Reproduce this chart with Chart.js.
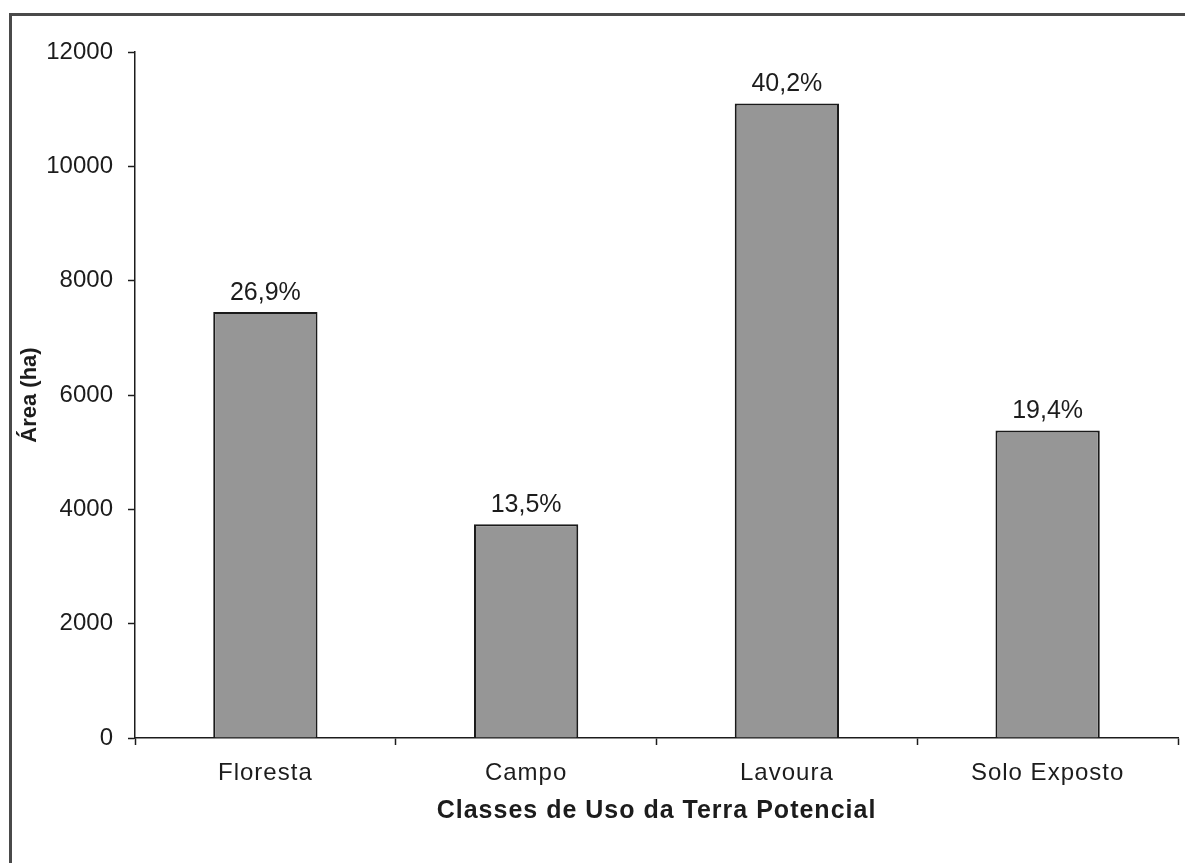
<!DOCTYPE html>
<html>
<head>
<meta charset="utf-8">
<script src="https://cdn.jsdelivr.net/npm/chart.js@4"></script>
<style>
html,body{margin:0;padding:0;background:#fff;overflow:hidden;}
canvas{display:block;}
</style>
</head>
<body>
<canvas id="c" width="1185" height="863"></canvas>
<script>
const categories = ['Floresta', 'Campo', 'Lavoura', 'Solo Exposto'];
const areaHa = [7450, 3740, 11100, 5380];
const percentLabels = ['26,9%', '13,5%', '40,2%', '19,4%'];
const yTicks = [0, 2000, 4000, 6000, 8000, 10000, 12000];

const FONT = "'Liberation Sans', Arial, sans-serif";
const INK = '#1c1c1c';

const framePlugin = {
  id: 'frame',
  beforeDraw(chart) {
    const ctx = chart.ctx;
    ctx.save();
    ctx.fillStyle = '#fff';
    ctx.fillRect(0, 0, chart.width, chart.height);
    ctx.strokeStyle = '#4a4a4a';
    ctx.lineWidth = 3;
    ctx.strokeRect(10.5, 14.5, chart.width + 50, chart.height + 50);
    ctx.restore();
  }
};

const labelPlugin = {
  id: 'barLabels',
  afterDatasetsDraw(chart) {
    const ctx = chart.ctx;
    const meta = chart.getDatasetMeta(0);
    ctx.save();
    ctx.font = '25px ' + FONT;
    ctx.fillStyle = INK;
    ctx.textAlign = 'center';
    ctx.textBaseline = 'alphabetic';
    meta.data.forEach((bar, i) => {
      ctx.fillText(percentLabels[i], bar.x, bar.y - 12);
    });
    ctx.restore();
  }
};

function spaced(scale, spacing) {
  if (scale._spacedPatched) return;
  scale._spacedPatched = true;
  const orig = scale.draw;
  scale.draw = function (area) {
    const ctx = this.ctx;
    const prev = ctx.letterSpacing;
    ctx.letterSpacing = spacing;
    orig.call(this, area);
    ctx.letterSpacing = prev || '0px';
  };
}

new Chart(document.getElementById('c'), {
  type: 'bar',
  data: {
    labels: categories,
    datasets: [{
      data: areaHa,
      backgroundColor: '#969696',
      borderColor: '#1a1a1a',
      borderWidth: 2,
      borderSkipped: 'start',
      categoryPercentage: 1,
      barPercentage: 0.4
    }]
  },
  options: {
    responsive: false,
    animation: false,
    devicePixelRatio: 1,
    layout: { padding: { left: 0, right: 7, top: 52, bottom: 0 } },
    plugins: {
      legend: { display: false },
      tooltip: { enabled: false },
      title: { display: false }
    },
    scales: {
      x: {
        afterFit(scale) { scale.height = 125; spaced(scale, '1px'); },
        grid: {
          display: true,
          drawOnChartArea: false,
          drawTicks: true,
          tickLength: 7,
          tickWidth: 1.5,
          tickColor: INK,
          offset: true
        },
        border: { display: true, color: INK, width: 1.5 },
        ticks: {
          color: INK,
          font: { family: FONT, size: 24 },
          padding: 14,
          maxRotation: 0
        },
        title: {
          display: true,
          text: 'Classes de Uso da Terra Potencial',
          color: INK,
          font: { family: FONT, size: 25, weight: 'bold' },
          padding: { top: 0, bottom: 37 }
        }
      },
      y: {
        min: 0,
        max: 12000,
        afterFit(scale) { scale.width = 135; },
        afterBuildTicks(scale) { scale.ticks = yTicks.map(v => ({ value: v })); },
        grid: {
          display: true,
          drawOnChartArea: false,
          drawTicks: true,
          tickLength: 7,
          tickWidth: 1.5,
          tickColor: INK
        },
        border: { display: true, color: INK, width: 1.5 },
        ticks: {
          color: INK,
          font: { family: FONT, size: 24 },
          padding: 15,
          callback: (v) => String(v)
        },
        title: {
          display: true,
          text: 'Área (ha)',
          color: INK,
          font: { family: FONT, size: 22, weight: 'bold' },
          padding: { top: 17, bottom: 0 }
        }
      }
    }
  },
  plugins: [framePlugin, labelPlugin]
});
</script>
</body>
</html>
